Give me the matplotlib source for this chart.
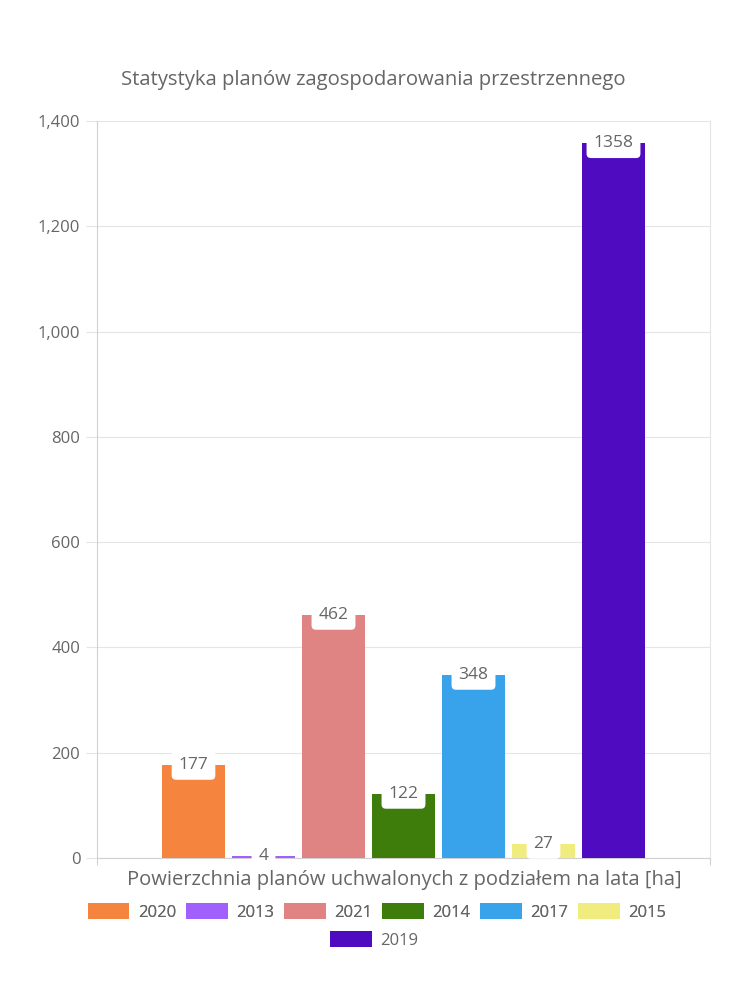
import matplotlib
matplotlib.use("Agg")
import matplotlib.pyplot as plt
from matplotlib.patches import Patch

plt.rcParams['font.family'] = ['Open Sans', 'DejaVu Sans']

years = ["2020", "2013", "2021", "2014", "2017", "2015", "2019"]
values = [177, 4, 462, 122, 348, 27, 1358]
colors = ["#F5843F", "#A15FFB", "#E08383", "#3E7D0C", "#38A3EA", "#F0EC7D", "#4F0BC0"]
yticks = [0, 200, 400, 600, 800, 1000, 1200, 1400]
ytick_labels = ["0", "200", "400", "600", "800", "1,000", "1,200", "1,400"]
title = "Statystyka planów zagospodarowania przestrzennego"
xlabel = "Powierzchnia planów uchwalonych z podziałem na lata [ha]"

txt = "#666666"
fig = plt.figure(figsize=(7.5, 10), dpi=100)
ax = fig.add_axes([97/750, 142/1000, 613/750, 737/1000])

n = len(years)
slot = 70 / 613  # fraction of axis per bar
bw = 63 / 613
start = 0.5 - slot * n / 2 + slot / 2
for i, (y, v, c) in enumerate(zip(years, values, colors)):
    xc = start + i * slot
    ax.bar(xc, v, width=bw, color=c, label=y, zorder=3)
    ax.text(xc, v, str(v), ha='center', va='center', fontsize=12.5, color=txt, zorder=5,
            bbox=dict(boxstyle='round,pad=0.4,rounding_size=0.25', fc='white', ec='none'))

ax.set_xlim(0, 1)
ax.set_ylim(0, 1400)
ax.set_yticks(yticks)
ax.set_yticklabels(ytick_labels, fontsize=12, color=txt)
ax.set_xticks([0, 1])
ax.set_xticklabels(["", ""])
ax.tick_params(axis='y', length=8, color='#e5e5e5', pad=4)
ax.tick_params(axis='x', length=5, color='#d0d0d0')
ax.grid(axis='y', color='#e5e5e5', linewidth=0.8, zorder=0)
ax.spines['top'].set_visible(False)
ax.spines['right'].set_color('#e5e5e5')
ax.spines['left'].set_color('#d0d0d0')
ax.spines['bottom'].set_color('#d0d0d0')

fig.text(373/750, 1 - 80/1000, title, ha='center', va='center', fontsize=14.6, color=txt)
fig.text(404/750, 1 - 880/1000, xlabel, ha='center', va='center', fontsize=14.5, color=txt)

h1 = [Patch(facecolor=c, edgecolor='none') for c in colors]
kw = dict(frameon=False, fontsize=12, handlelength=2.5, handleheight=1.13,
          handletextpad=0.5, columnspacing=0.6, labelcolor=txt)
leg1 = fig.legend(h1[:6], years[:6], loc='center', bbox_to_anchor=(377/750, 1 - 912/1000), ncol=6, **kw)
leg2 = fig.legend(h1[6:], years[6:], loc='center', bbox_to_anchor=(374/750, 1 - 940/1000), ncol=1, **kw)
fig.add_artist(leg1)

fig.savefig("out.png", dpi=100, facecolor='white')
